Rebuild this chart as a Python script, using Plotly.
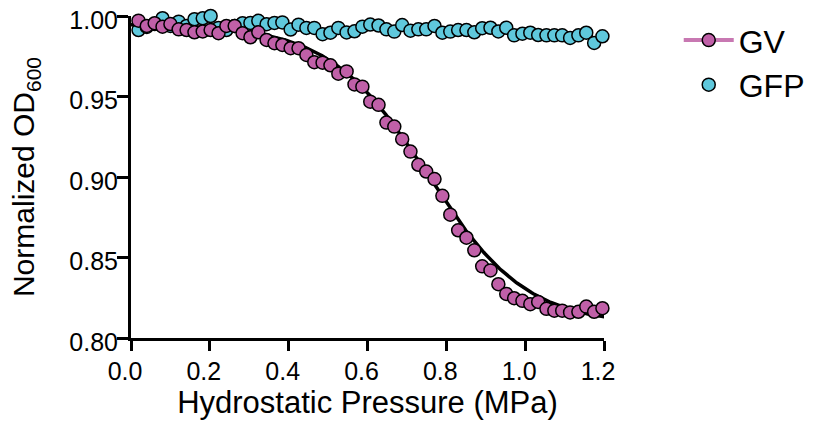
import numpy as np
import plotly.graph_objects as go

# Hydrostatic pressure (MPa) at each measurement
pressure = [0.019, 0.040, 0.060, 0.080, 0.100, 0.121, 0.141, 0.161, 0.182, 0.202,
            0.222, 0.242, 0.263, 0.283, 0.303, 0.323, 0.344, 0.364, 0.384, 0.405,
            0.425, 0.445, 0.465, 0.486, 0.506, 0.526, 0.547, 0.567, 0.587, 0.607,
            0.628, 0.648, 0.668, 0.688, 0.709, 0.729, 0.749, 0.770, 0.790, 0.810,
            0.830, 0.851, 0.871, 0.891, 0.912, 0.932, 0.952, 0.972, 0.993, 1.013,
            1.033, 1.054, 1.074, 1.094, 1.114, 1.135, 1.155, 1.175, 1.196, 1.216]

gv_od = [0.9971, 0.9938, 0.9955, 0.9934, 0.9950, 0.9917, 0.9913, 0.9899, 0.9904, 0.9913,
         0.9893, 0.9938, 0.9938, 0.9893, 0.9868, 0.9899, 0.9851, 0.9831, 0.9820, 0.9800,
         0.9800, 0.9758, 0.9713, 0.9710, 0.9694, 0.9642, 0.9656, 0.9575, 0.9561, 0.9468,
         0.9448, 0.9338, 0.9313, 0.9235, 0.9158, 0.9076, 0.9034, 0.8987, 0.8883, 0.8766,
         0.8669, 0.8623, 0.8545, 0.8445, 0.8420, 0.8334, 0.8274, 0.8247, 0.8231, 0.8210,
         0.8224, 0.8181, 0.8170, 0.8170, 0.8159, 0.8163, 0.8195, 0.8163, 0.8185, 0.8216]

gfp_od = [0.9913, 0.9932, 0.9950, 0.9986, 0.9938, 0.9965, 0.9938, 0.9980, 0.9986, 1.0000,
          0.9926, 0.9913, 0.9938, 0.9955, 0.9957, 0.9970, 0.9949, 0.9957, 0.9960, 0.9916,
          0.9946, 0.9926, 0.9926, 0.9887, 0.9896, 0.9926, 0.9898, 0.9905, 0.9934, 0.9947,
          0.9941, 0.9917, 0.9903, 0.9944, 0.9909, 0.9917, 0.9917, 0.9938, 0.9896, 0.9903,
          0.9913, 0.9913, 0.9899, 0.9924, 0.9927, 0.9904, 0.9927, 0.9880, 0.9890, 0.9896,
          0.9882, 0.9880, 0.9880, 0.9880, 0.9864, 0.9880, 0.9896, 0.9833, 0.9874, 0.9859]

# Boltzmann sigmoid fit parameters for GV collapse
fit_top = 0.995
fit_bottom = 0.808
fit_p50 = 0.752
fit_slope = 0.125

x_ticks = [0.0, 0.2, 0.4, 0.6, 0.8, 1.0, 1.2]
y_ticks = [0.80, 0.85, 0.90, 0.95, 1.00]

GV_COLOR = "#C060A8"
GV_LEGEND_LINE = "#C878B2"
GFP_COLOR = "#5FC8DC"
FONT = "Arial, Liberation Sans, sans-serif"

fit_x = np.linspace(0.0, pressure[-1], 300)
fit_y = fit_bottom + (fit_top - fit_bottom) / (1 + np.exp((fit_x - fit_p50) / fit_slope))

fig = go.Figure()

fig.add_trace(go.Scatter(
    x=pressure, y=gfp_od, mode="markers", name="GFP", showlegend=False,
    marker=dict(size=13, color=GFP_COLOR, line=dict(color="black", width=1.5)),
    cliponaxis=False))

fig.add_trace(go.Scatter(
    x=fit_x, y=fit_y, mode="lines", showlegend=False, hoverinfo="skip",
    line=dict(color="black", width=3.5), cliponaxis=False))

fig.add_trace(go.Scatter(
    x=pressure, y=gv_od, mode="markers", name="GV", showlegend=False,
    marker=dict(size=13, color=GV_COLOR, line=dict(color="black", width=1.5)),
    cliponaxis=False))

# legend entries
fig.add_trace(go.Scatter(
    x=[None], y=[None], mode="lines+markers", name="GV",
    line=dict(color=GV_LEGEND_LINE, width=4),
    marker=dict(size=13, color=GV_COLOR, line=dict(color="black", width=1.5))))
fig.add_trace(go.Scatter(
    x=[None], y=[None], mode="markers", name="GFP",
    marker=dict(size=13, color=GFP_COLOR, line=dict(color="black", width=1.5))))

fig.update_layout(
    width=816, height=425,
    margin=dict(l=131, r=212, t=16, b=87, autoexpand=False),
    paper_bgcolor="white", plot_bgcolor="white",
    font=dict(family=FONT, color="black", size=24),
    showlegend=True,
    legend=dict(x=1.158, y=1.01, xanchor="left", yanchor="top",
                font=dict(size=32, family=FONT), itemwidth=50,
                bgcolor="rgba(0,0,0,0)", tracegroupgap=0),
    xaxis=dict(range=[0, 1.2], tickvals=x_ticks, ticktext=[f"{v:.1f}" for v in x_ticks],
               showgrid=False, zeroline=False, showline=True, linecolor="black", linewidth=3,
               ticks="outside", ticklen=10, tickwidth=3, tickcolor="black",
               tickfont=dict(size=25), ticklabelshift=-6, ticklabelstandoff=-1,
               ticklabeloverflow="allow", automargin=False,
               title=dict(text="Hydrostatic Pressure (MPa)", font=dict(size=31), standoff=7)),
    yaxis=dict(range=[0.80, 1.00], tickvals=y_ticks, ticktext=[f"{v:.2f}" for v in y_ticks],
               showgrid=False, zeroline=False, showline=True, linecolor="black", linewidth=3,
               ticks="outside", ticklen=11, tickwidth=3, tickcolor="black",
               tickfont=dict(size=25), ticklabelstandoff=-6, ticklabelshift=4,
               ticklabeloverflow="allow", automargin=False,
               title=dict(text="Normalized OD<sub>600</sub>", font=dict(size=30), standoff=26)),
)

fig.write_html("out.html", config={"displayModeBar": False},
               post_script="document.body.style.margin='0px';")
